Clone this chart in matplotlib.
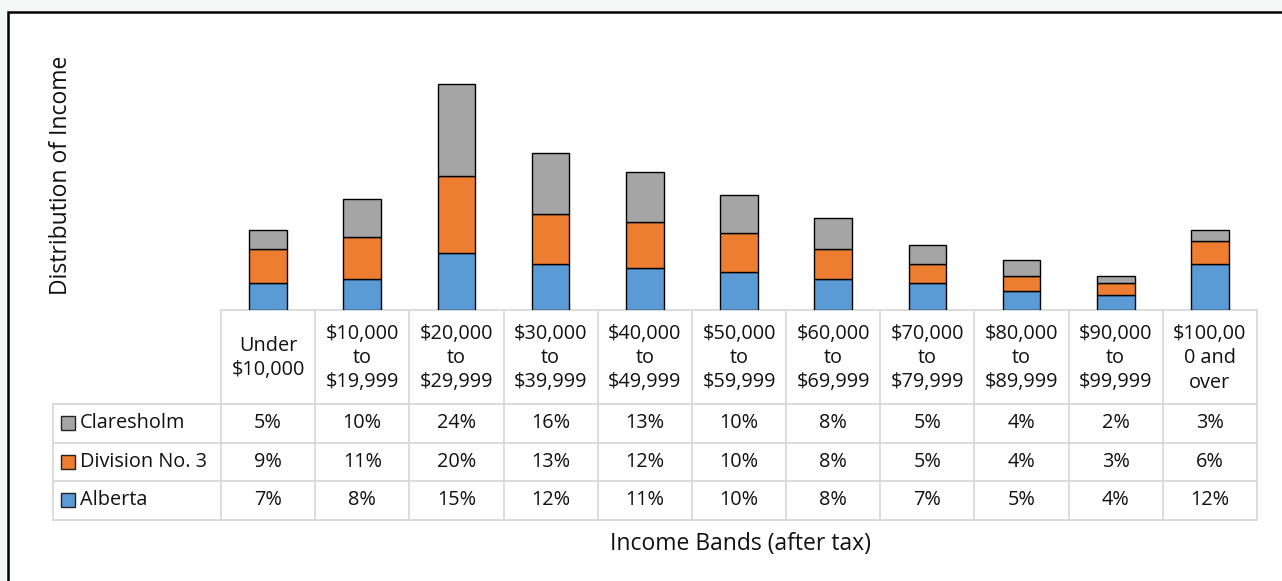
import matplotlib.pyplot as plt
from matplotlib.patches import Rectangle

plt.rcParams['font.family'] = ['Open Sans', 'DejaVu Sans']

bands = ['Under\n$10,000', '$10,000\nto\n$19,999', '$20,000\nto\n$29,999', '$30,000\nto\n$39,999',
         '$40,000\nto\n$49,999', '$50,000\nto\n$59,999', '$60,000\nto\n$69,999', '$70,000\nto\n$79,999',
         '$80,000\nto\n$89,999', '$90,000\nto\n$99,999', '$100,00\n0 and\nover']
alberta = [7, 8, 15, 12, 11, 10, 8, 7, 5, 4, 12]
division3 = [9, 11, 20, 13, 12, 10, 8, 5, 4, 3, 6]
claresholm = [5, 10, 24, 16, 13, 10, 8, 5, 4, 2, 3]

series = [('Claresholm', claresholm, '#a5a5a5'),
          ('Division No. 3', division3, '#ed7d31'),
          ('Alberta', alberta, '#5b9bd5')]

W, H = 1282, 581
fig = plt.figure(figsize=(W / 100, H / 100), dpi=100)
fig.patch.set_facecolor('#f3f7f5')

# background / frame axes in pixel coordinates
bg = fig.add_axes([0, 0, 1, 1])
bg.set_xlim(0, W)
bg.set_ylim(H, 0)
bg.axis('off')
bg.add_patch(Rectangle((8, 12), W + 50, H + 50, facecolor='white', edgecolor='black', lw=1.8))

# bar area
x0, x1, base, top = 221, 1257, 310, 30
ax = fig.add_axes([x0 / W, (H - base) / H, (x1 - x0) / W, (base - top) / H])
ax.set_xlim(-0.5, len(bands) - 0.5)
ax.set_ylim(0, (base - top) / 3.83)
ax.axis('off')
ax.patch.set_alpha(0)

xs = list(range(len(bands)))
bottom = [0] * len(bands)
for name, vals, col in reversed(series):
    ax.bar(xs, vals, width=0.4, bottom=bottom, color=col, edgecolor='black', lw=1.0, zorder=3)
    bottom = [b + v for b, v in zip(bottom, vals)]

# data table
cw = (x1 - x0) / len(bands)
lab_left = 53
hdr_bot = 404
rh = 38.5
grid = '#d9d9d9'
fs = 14.3
tc = '#111111'
bg.plot([x0, x1], [base, base], color=grid, lw=1.3)
for r in range(4):
    y = hdr_bot + r * rh
    bg.plot([lab_left, x1], [y, y], color=grid, lw=1.3)
bg.plot([lab_left, lab_left], [hdr_bot, hdr_bot + 3 * rh], color=grid, lw=1.3)
for i in range(len(bands) + 1):
    xx = x0 + i * cw
    bg.plot([xx, xx], [base, hdr_bot + 3 * rh], color=grid, lw=1.3)

for i, b in enumerate(bands):
    bg.text(x0 + (i + 0.5) * cw, (base + hdr_bot) / 2 + 1, b, ha='center', va='center',
            fontsize=fs, linespacing=1.3, color=tc)

for r, (name, vals, col) in enumerate(series):
    yc = hdr_bot + (r + 0.5) * rh
    bg.add_patch(Rectangle((61, yc - 7), 14, 14, facecolor=col, edgecolor='#222222', lw=1))
    bg.text(80, yc, name, ha='left', va='center', fontsize=fs, color=tc)
    for i, v in enumerate(vals):
        bg.text(x0 + (i + 0.5) * cw, yc, f'{v}%', ha='center', va='center', fontsize=fs, color=tc)

bg.text(61, 175, 'Distribution of Income', rotation=90, ha='center', va='center', fontsize=16.5, color=tc)
bg.text(740, 544, 'Income Bands (after tax)', ha='center', va='center', fontsize=16.5, color=tc)

plt.savefig('out.png', dpi=100, facecolor=fig.get_facecolor())
